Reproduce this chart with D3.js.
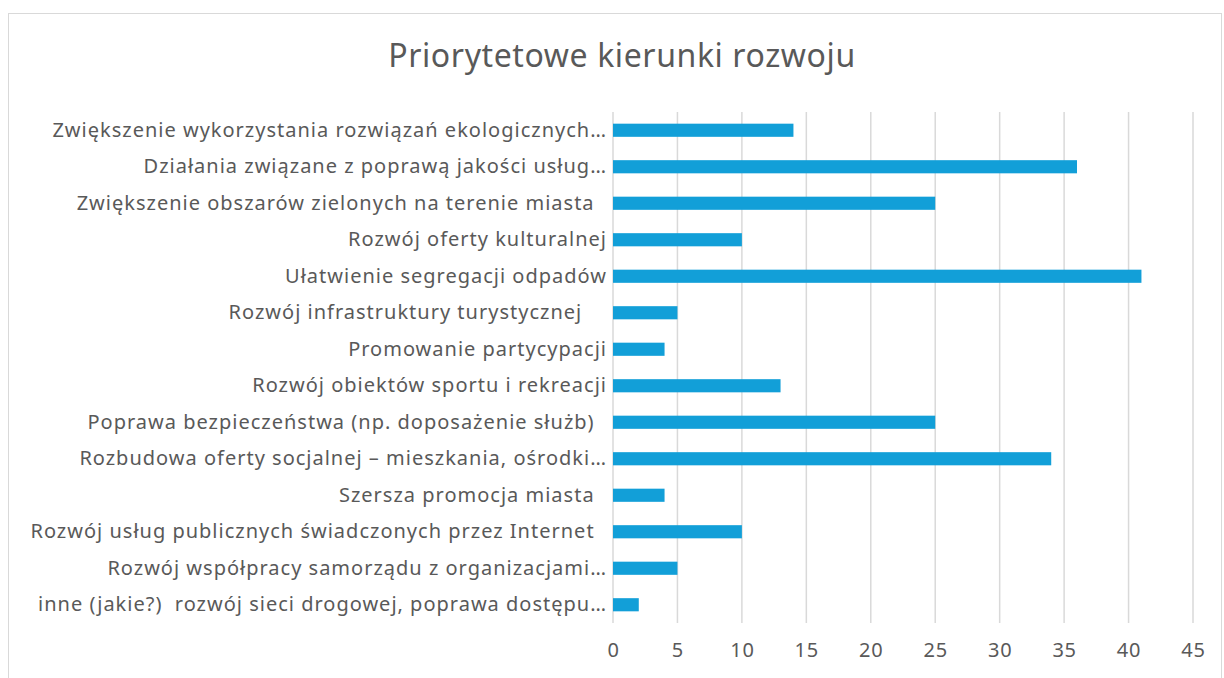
<!DOCTYPE html>
<html>
<head>
<meta charset="utf-8">
<script src="https://cdn.jsdelivr.net/npm/d3@7"></script>
<style>
  body { margin: 0; background: #fff; }
  svg text { font-family: "Noto Sans", "Open Sans", sans-serif; fill: #595959; white-space: pre; }
</style>
</head>
<body>
<script>
// kategorie (od góry do dołu)
const kategorie = [
  "Zwiększenie wykorzystania rozwiązań ekologicznych…",
  "Działania związane z poprawą jakości usług…",
  "Zwiększenie obszarów zielonych na terenie miasta  ",
  "Rozwój oferty kulturalnej",
  "Ułatwienie segregacji odpadów",
  "Rozwój infrastruktury turystycznej    ",
  "Promowanie partycypacji",
  "Rozwój obiektów sportu i rekreacji",
  "Poprawa bezpieczeństwa (np. doposażenie służb)  ",
  "Rozbudowa oferty socjalnej – mieszkania, ośrodki…",
  "Szersza promocja miasta  ",
  "Rozwój usług publicznych świadczonych przez Internet  ",
  "Rozwój współpracy samorządu z organizacjami…",
  "inne (jakie?)  rozwój sieci drogowej, poprawa dostępu…"
]
const wartosci = [14, 36, 25, 10, 41, 5, 4, 13, 25, 34, 4, 10, 5, 2]
const ticks = [0, 5, 10, 15, 20, 25, 30, 35, 40, 45]

const W = 1224, H = 678
const margin = { top: 112, right: 31, bottom: 55, left: 613 }

const svg = d3.select("body").append("svg")
    .attr("width", W)
    .attr("height", H)

// ramka wykresu
svg.append("rect")
    .attr("x", 8.5).attr("y", 13.5)
    .attr("width", W - 11).attr("height", H)
    .attr("fill", "none")
    .attr("stroke", "#d9d9d9")
    .attr("stroke-width", 1)

svg.append("text")
    .attr("x", 622).attr("y", 67)
    .attr("text-anchor", "middle")
    .style("font-size", "32px")
    .style("letter-spacing", "0.6px")
    .text("Priorytetowe kierunki rozwoju")

const g = svg.append("g")
    .attr("transform", "translate(" + margin.left + "," + margin.top + ")")

const x = d3.scaleLinear().domain([0, 45]).range([0, 580])
const y = d3.scaleBand().domain(kategorie).range([0, 511]).paddingInner(0.64).paddingOuter(0.32)

// linie siatki
g.append("g").selectAll("line")
    .data(ticks)
    .enter().append("line")
    .attr("x1", d => x(d)).attr("x2", d => x(d))
    .attr("y1", 0).attr("y2", 511)
    .attr("stroke", "#d9d9d9")
    .attr("stroke-width", 1.5)

// oś X
const osX = g.append("g")
    .attr("transform", "translate(0,511)")
    .call(d3.axisBottom(x).tickValues(ticks).tickSize(0).tickPadding(20))
osX.select(".domain").remove()
osX.selectAll("text").style("font-size", "20px").style("letter-spacing", "0.8px").attr("fill", "#595959")

// oś Y
const osY = g.append("g")
    .call(d3.axisLeft(y).tickSize(0).tickPadding(6))
osY.select(".domain").remove()
osY.selectAll("text").style("font-size", "20px").style("letter-spacing", "1px").attr("fill", "#595959")

// słupki
g.append("g").selectAll("rect")
    .data(wartosci)
    .enter().append("rect")
    .attr("x", 0)
    .attr("y", (d, i) => y(kategorie[i]))
    .attr("width", d => x(d))
    .attr("height", y.bandwidth())
    .attr("fill", "#129fd8")
</script>
</body>
</html>
